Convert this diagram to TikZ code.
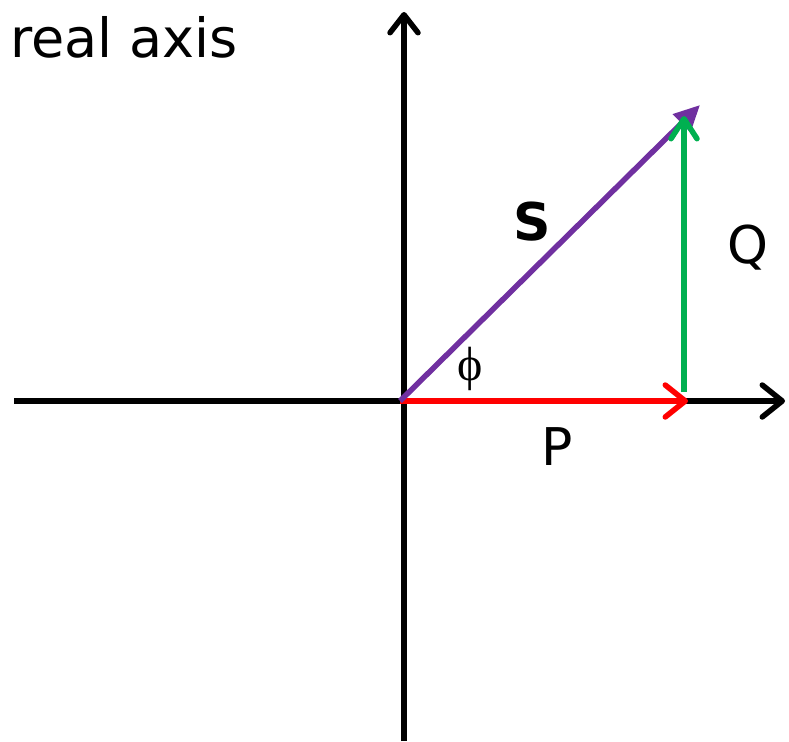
\documentclass[tikz,border=0pt]{standalone}
\usepackage{fontspec}
\setmainfont{DejaVu Sans}
\newfontfamily\phifont{Liberation Serif}
\usetikzlibrary{arrows.meta}
\definecolor{spurple}{HTML}{7030A0}
\definecolor{qgreen}{HTML}{00B050}
\begin{document}
\begin{tikzpicture}[x=1pt,y=-1pt,
  axis/.style={line width=5.5pt,-{Straight Barb[length=20pt,width=32pt,line cap=round,line join=round]}},
  vec/.style={line width=5.5pt},
  lbl/.style={font=\fontsize{52}{62}\selectfont, inner sep=0pt}]
\useasboundingbox (0,0) rectangle (789,741);
\coordinate (xl) at (14,401);
\coordinate (xr) at (785,401);
\coordinate (yb) at (404,741);
\coordinate (yt) at (404,12);
\coordinate (O) at (400,401);
\coordinate (Pend) at (688,401);
\coordinate (Qbot) at (684,392);
\coordinate (Qtop) at (684,116);
\coordinate (Send) at (700,105);
\draw[axis] (xl) -- (xr);
\draw[axis,-{Straight Barb[length=18pt,width=28pt,line cap=round,line join=round]}] (yb) -- (yt);
\draw[vec,red,-{Straight Barb[length=20pt,width=32pt,line cap=round,line join=round]}] (O) -- (Pend);
\draw[vec,spurple,-{Triangle[length=26pt,width=24pt]}] (O) -- (Send);
\draw[vec,qgreen,-{Straight Barb[length=20pt,width=26pt,line cap=round,line join=round]}] (Qbot) -- (Qtop);
\node[lbl,anchor=base west,font=\fontsize{54}{64}\selectfont] (title) at (10,58) {real axis};
\node[lbl] (S) at (532,222) {\textbf{S}};
\node[lbl] (Q) at (748,248) {Q};
\node[lbl] (P) at (557,447) {P};
\node[inner sep=0pt] (phi) at (470,369) {\phifont\fontsize{48}{56}\selectfont ϕ};
\end{tikzpicture}
\end{document}
